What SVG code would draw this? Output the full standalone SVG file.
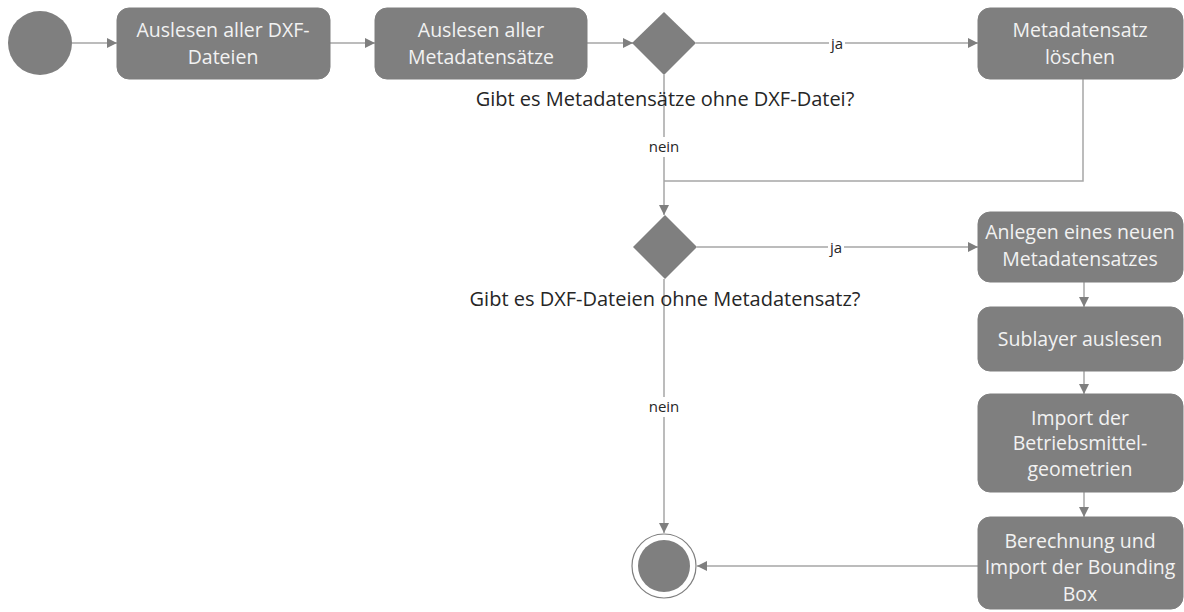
<svg xmlns="http://www.w3.org/2000/svg" width="1184" height="612" viewBox="0 0 1184 612">
<style>
.box{fill:#7f7f7f;stroke:#7f7f7f}
.bt{font-family:"Open Sans","Noto Sans",sans-serif;font-size:19.5px;fill:#f2f2f2;text-anchor:middle}
.lbl{font-family:"Open Sans","Noto Sans",sans-serif;font-size:20px;fill:#262626;text-anchor:middle}
.sm{font-family:"Open Sans","Noto Sans",sans-serif;font-size:15px;fill:#262626;text-anchor:middle}
.ln{fill:none;stroke:#a6a6a6;stroke-width:1.5}
</style>
<defs>
<marker id="ah" viewBox="0 0 10 10" refX="10" refY="5" markerWidth="10" markerHeight="10" markerUnits="userSpaceOnUse" orient="auto">
<path d="M0,0 L10,5 L0,10 z" fill="#7f7f7f"/>
</marker>
</defs>
<rect width="1184" height="612" fill="#ffffff"/>
<g id="connectors">
<line class="ln" x1="72" y1="43" x2="117" y2="43" marker-end="url(#ah)"/>
<line class="ln" x1="330" y1="43" x2="375" y2="43" marker-end="url(#ah)"/>
<line class="ln" x1="587" y1="43" x2="633" y2="43" marker-end="url(#ah)"/>
<line class="ln" x1="696" y1="43" x2="978" y2="43" marker-end="url(#ah)"/>
<polyline class="ln" points="1083,79 1083,181 664,181"/>
<line class="ln" x1="664" y1="75" x2="664" y2="215" marker-end="url(#ah)"/>
<line class="ln" x1="697" y1="247" x2="978" y2="247" marker-end="url(#ah)"/>
<line class="ln" x1="1084" y1="282" x2="1084" y2="307" marker-end="url(#ah)"/>
<line class="ln" x1="1084" y1="371" x2="1084" y2="394" marker-end="url(#ah)"/>
<line class="ln" x1="1084" y1="492" x2="1084" y2="517" marker-end="url(#ah)"/>
<line class="ln" x1="664" y1="279" x2="664" y2="533" marker-end="url(#ah)"/>
<line class="ln" x1="978" y1="566" x2="697" y2="566" marker-end="url(#ah)"/>
<rect x="829" y="35" width="16" height="17" fill="#ffffff"/>
<text class="sm" x="837" y="49">ja</text>
<rect x="828" y="239" width="16" height="17" fill="#ffffff"/>
<text class="sm" x="836" y="253">ja</text>
<rect x="646" y="137" width="36" height="20" fill="#ffffff"/>
<text class="sm" x="664" y="152">nein</text>
<rect x="646" y="397" width="36" height="20" fill="#ffffff"/>
<text class="sm" x="664" y="412">nein</text>
</g>
<g id="start"><circle cx="40" cy="43" r="32" fill="#7f7f7f"/></g>
<g id="n1"><rect class="box" x="117" y="8" width="213" height="71" rx="12"/>
<text class="bt" x="223" y="37">Auslesen aller DXF-</text><text class="bt" x="223" y="64">Dateien</text></g>
<g id="n2"><rect class="box" x="375" y="8" width="212" height="71" rx="12"/>
<text class="bt" x="481" y="37">Auslesen aller</text><text class="bt" x="481" y="64">Metadatensätze</text></g>
<g id="d1"><polygon points="664,12 696,43 664,75 632,43" fill="#7f7f7f"/>
<text class="lbl" x="665" y="106">Gibt es Metadatensätze ohne DXF-Datei?</text></g>
<g id="n3"><rect class="box" x="978" y="8" width="205" height="71" rx="12"/>
<text class="bt" x="1080" y="37">Metadatensatz</text><text class="bt" x="1080" y="64">löschen</text></g>
<g id="d2"><polygon points="665,215 697,247 665,279 633,247" fill="#7f7f7f"/>
<text class="lbl" x="665" y="306">Gibt es DXF-Dateien ohne Metadatensatz?</text></g>
<g id="n4"><rect class="box" x="978" y="212" width="205" height="70" rx="12"/>
<text class="bt" x="1080" y="239">Anlegen eines neuen</text><text class="bt" x="1080" y="266">Metadatensatzes</text></g>
<g id="n5"><rect class="box" x="978" y="307" width="205" height="64" rx="12"/>
<text class="bt" x="1080" y="346">Sublayer auslesen</text></g>
<g id="n6"><rect class="box" x="978" y="394" width="205" height="98" rx="12"/>
<text class="bt" x="1080" y="425">Import der</text><text class="bt" x="1080" y="450">Betriebsmittel-</text><text class="bt" x="1080" y="476">geometrien</text></g>
<g id="n7"><rect class="box" x="978" y="517" width="205" height="92" rx="12"/>
<text class="bt" x="1080" y="548">Berechnung und</text><text class="bt" x="1080" y="574">Import der Bounding</text><text class="bt" x="1080" y="601">Box</text></g>
<g id="end"><circle cx="664" cy="566" r="32" fill="#ffffff" stroke="#7f7f7f" stroke-width="1.2"/><circle cx="664" cy="566" r="26" fill="#7f7f7f"/></g>
</svg>
